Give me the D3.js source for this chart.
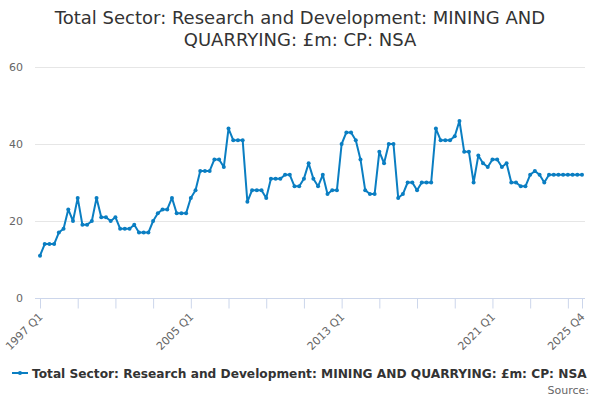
<!DOCTYPE html>
<html>
<head>
<meta charset="utf-8">
<script src="https://cdn.jsdelivr.net/npm/d3@7"></script>
<style>
  body { margin: 0; background: #fff; }
  text { font-family: "DejaVu Sans", sans-serif; }
</style>
</head>
<body>
<script>
var width = 600,
    height = 400;

var titleLines = ['Total Sector: Research and Development: MINING AND', 'QUARRYING: £m: CP: NSA'];
var seriesName = 'Total Sector: Research and Development: MINING AND QUARRYING: £m: CP: NSA';

// quarterly values, 1997 Q1 .. 2025 Q4
var values = [
    11, 14, 14, 14, 17, 18, 23, 20,
    26, 19, 19, 20, 26, 21, 21, 20,
    21, 18, 18, 18, 19, 17, 17, 17,
    20, 22, 23, 23, 26, 22, 22, 22,
    26, 28, 33, 33, 33, 36, 36, 34,
    44, 41, 41, 41, 25, 28, 28, 28,
    26, 31, 31, 31, 32, 32, 29, 29,
    31, 35, 31, 29, 32, 27, 28, 28,
    40, 43, 43, 41, 36, 28, 27, 27,
    38, 35, 40, 40, 26, 27, 30, 30,
    28, 30, 30, 30, 44, 41, 41, 41,
    42, 46, 38, 38, 30, 37, 35, 34,
    36, 36, 34, 35, 30, 30, 29, 29,
    32, 33, 32, 30, 32, 32, 32, 32,
    32, 32, 32, 32
];
var quarters = values.map(function(v, i) {
    return (1997 + Math.floor(i / 4)) + ' Q' + (i % 4 + 1);
});
var labelQuarters = ['1997 Q1', '2005 Q1', '2013 Q1', '2021 Q1', '2025 Q4'];
var yTicks = [0, 20, 40, 60];

var svg = d3.select('body').append('svg')
    .attr('width', width)
    .attr('height', height);

var margin = {left: 40, right: 18, top: 67, bottom: 102};

var x = d3.scalePoint()
    .domain(quarters)
    .range([margin.left, width - margin.right]);

var y = d3.scaleLinear()
    .domain([0, 60])
    .range([height - margin.bottom, margin.top]);

// title
svg.append('text')
    .attr('x', width / 2)
    .attr('y', 24)
    .attr('text-anchor', 'middle')
    .style('font-size', '18px')
    .style('fill', '#333')
    .selectAll('tspan')
    .data(titleLines)
    .enter().append('tspan')
    .attr('x', width / 2)
    .attr('dy', function(d, i) { return i ? 22 : 0; })
    .text(function(d) { return d; });

// grid + y labels
svg.append('g')
    .selectAll('line')
    .data(yTicks.slice(1))
    .enter().append('line')
    .attr('x1', 35)
    .attr('x2', 585)
    .attr('y1', function(d) { return y(d) + 0.5; })
    .attr('y2', function(d) { return y(d) + 0.5; })
    .attr('stroke', '#e6e6e6');

svg.append('g')
    .selectAll('text')
    .data(yTicks)
    .enter().append('text')
    .attr('x', 23)
    .attr('y', function(d) { return y(d) + 4; })
    .attr('text-anchor', 'end')
    .style('font-size', '11px')
    .style('fill', '#666')
    .text(function(d) { return d; });

// x axis
var xAxis = svg.append('g')
    .attr('transform', 'translate(0,' + (y(0) + 0.5) + ')')
    .call(d3.axisBottom(x)
        .tickValues(quarters.filter(function(q, i) { return i % 8 === 0 || i === quarters.length - 1; }))
        .tickSize(10)
        .tickSizeOuter(0)
        .tickFormat(function(d) { return labelQuarters.indexOf(d) >= 0 ? d : ''; }));

xAxis.select('.domain')
    .attr('stroke', '#ccd6eb')
    .attr('d', 'M35,0H585');
xAxis.selectAll('.tick line').attr('stroke', '#ccd6eb');
xAxis.selectAll('.tick text')
    .style('font-size', '11px')
    .style('font-family', '"DejaVu Sans", sans-serif')
    .attr('fill', '#666')
    .attr('text-anchor', 'end')
    .attr('dy', null)
    .attr('y', 0)
    .attr('transform', 'translate(3,19) rotate(-45)');

// series
var color = '#0a7ec2';
var line = d3.line()
    .x(function(d, i) { return x(quarters[i]); })
    .y(function(d) { return y(d); });

svg.append('path')
    .datum(values)
    .attr('d', line)
    .attr('fill', 'none')
    .attr('stroke', color)
    .attr('stroke-width', 2)
    .attr('stroke-linejoin', 'round');

svg.append('g')
    .selectAll('circle')
    .data(values)
    .enter().append('circle')
    .attr('cx', function(d, i) { return x(quarters[i]); })
    .attr('cy', function(d) { return y(d); })
    .attr('r', 2)
    .attr('fill', color);

// legend
var legend = svg.append('g').attr('transform', 'translate(0,373)');
legend.append('line')
    .attr('x1', 12).attr('x2', 28)
    .attr('stroke', color)
    .attr('stroke-width', 2);
legend.append('circle')
    .attr('cx', 20)
    .attr('r', 2)
    .attr('fill', color);
legend.append('text')
    .attr('x', 32)
    .attr('y', 5)
    .style('font-size', '12.2px')
    .style('font-weight', 'bold')
    .style('fill', '#333')
    .text(seriesName);

svg.append('text')
    .attr('x', 589)
    .attr('y', 394)
    .attr('text-anchor', 'end')
    .style('font-size', '11px')
    .style('fill', '#666')
    .text('Source:');
</script>
</body>
</html>
